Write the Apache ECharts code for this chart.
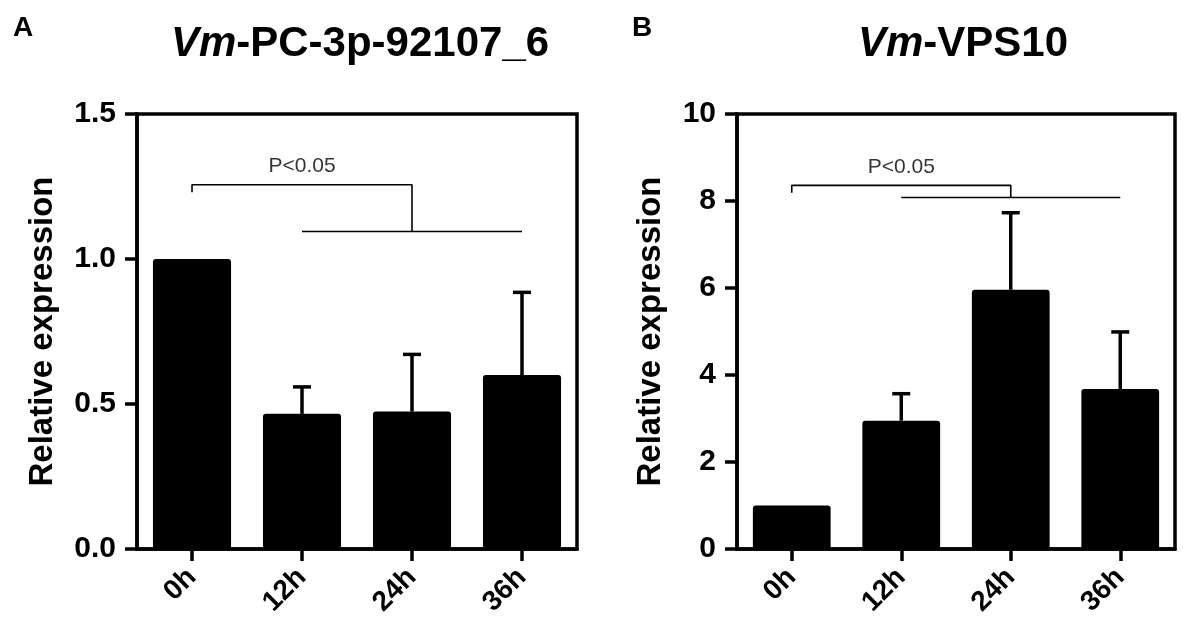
<!DOCTYPE html>
<html>
<head>
<meta charset="utf-8">
<script src="https://cdn.jsdelivr.net/npm/echarts@6/dist/echarts.min.js"></script>
<style>
html,body{margin:0;padding:0;background:#fff;}
#c{width:1183px;height:633px;}
</style>
</head>
<body>
<div id="c"></div>
<script>
var categories = ['0h', '12h', '24h', '36h'];
var pcMean = [1.0, 0.466, 0.474, 0.600];
var pcUpper = [1.0, 0.559, 0.671, 0.885];
var vpsMean = [1.0, 2.95, 5.96, 3.68];
var vpsUpper = [1.0, 3.57, 7.73, 4.99];
var pcTicks = [0.0, 0.5, 1.0, 1.5];
var vpsTicks = [0, 2, 4, 6, 8, 10];
// significance brackets: [category, value]
var pcBracketA = [['0h', 1.23], ['0h', 1.256], ['24h', 1.256], ['24h', 1.095]];
var pcBracketB = [['12h', 1.095], ['36h', 1.095]];
var pcSigText = [['12h', 1.32]];
var vpsBracketA = [['0h', 8.19], ['0h', 8.36], ['24h', 8.36], ['24h', 8.08]];
var vpsBracketB = [['12h', 8.08], ['36h', 8.08]];
var vpsSigText = [['12h', 8.78]];
var sigLabel = 'P<0.05';

var FONT = 'Liberation Sans, Arial, Helvetica, sans-serif';
var chart = echarts.init(document.getElementById('c'), null, {renderer: 'canvas'});

function errData(mean, upper) {
  return mean.map(function (m, i) { return [i, m, upper[i]]; });
}
function renderErr(params, api) {
  var i = api.value(0), m = api.value(1), u = api.value(2);
  if (u <= m) return null;
  var p0 = api.coord([i, m]);
  var p1 = api.coord([i, u]);
  var half = 9;
  var st = {stroke: '#000', lineWidth: 3.5};
  return {
    type: 'group',
    children: [
      {type: 'line', shape: {x1: p0[0], y1: p0[1], x2: p1[0], y2: p1[1]}, style: st},
      {type: 'line', shape: {x1: p1[0] - half, y1: p1[1], x2: p1[0] + half, y2: p1[1]}, style: st}
    ]
  };
}
function xAx(gi) {
  return {
    type: 'category', gridIndex: gi, data: categories,
    axisLine: {show: true, lineStyle: {color: '#000', width: 3.5}},
    axisTick: {show: true, alignWithLabel: true, length: 12, lineStyle: {color: '#000', width: 3.5}},
    axisLabel: {rotate: 45, margin: 24, color: '#000', fontSize: 28, fontWeight: 'bold', fontFamily: FONT}
  };
}
function yAx(gi, max, interval, fmt, gap) {
  return {
    type: 'value', gridIndex: gi, min: 0, max: max, interval: interval,
    name: 'Relative expression', nameLocation: 'middle', nameGap: gap,
    nameTextStyle: {color: '#000', fontSize: 33, fontWeight: 'bold', fontFamily: FONT},
    splitLine: {show: false},
    axisLine: {show: true, lineStyle: {color: '#000', width: 3.5}},
    axisTick: {show: true, length: 12, lineStyle: {color: '#000', width: 3.5}},
    axisLabel: {margin: 21, color: '#000', fontSize: 30, fontWeight: 'bold', fontFamily: FONT, formatter: fmt}
  };
}
function bracket(xi, data) {
  return {
    type: 'line', xAxisIndex: xi, yAxisIndex: xi, data: data, symbol: 'none', silent: true,
    lineStyle: {color: '#000', width: 1.6}, z: 5, animation: false
  };
}
function sigText(xi, data) {
  return {
    type: 'scatter', xAxisIndex: xi, yAxisIndex: xi, data: data, symbolSize: 0, silent: true,
    label: {show: true, position: 'inside', formatter: sigLabel, color: '#000', fontSize: 21, fontFamily: FONT},
    z: 6, animation: false
  };
}

var option = {
  backgroundColor: '#fff',
  animation: false,
  title: [
    {text: 'A', left: 8, top: 9, textStyle: {fontSize: 28, fontWeight: 'bold', color: '#000', fontFamily: FONT}},
    {text: 'B', left: 627, top: 9, textStyle: {fontSize: 28, fontWeight: 'bold', color: '#000', fontFamily: FONT}},
    {text: '{i|Vm}{b|-PC-3p-92107_6}', left: 355, top: 18, textAlign: 'center',
     textStyle: {rich: {
       i: {fontSize: 42, fontWeight: 'bold', fontStyle: 'italic', color: '#000', fontFamily: FONT},
       b: {fontSize: 42, fontWeight: 'bold', color: '#000', fontFamily: FONT}}}},
    {text: '{i|Vm}{b|-VPS10}', left: 958, top: 18, textAlign: 'center',
     textStyle: {rich: {
       i: {fontSize: 42, fontWeight: 'bold', fontStyle: 'italic', color: '#000', fontFamily: FONT},
       b: {fontSize: 42, fontWeight: 'bold', color: '#000', fontFamily: FONT}}}}
  ],
  grid: [
    {left: 137, top: 114, width: 440, height: 435, show: true, borderColor: '#000', borderWidth: 3.5, backgroundColor: 'transparent'},
    {left: 737, top: 114, width: 438, height: 435, show: true, borderColor: '#000', borderWidth: 3.5, backgroundColor: 'transparent'}
  ],
  xAxis: [xAx(0), xAx(1)],
  yAxis: [
    yAx(0, 1.5, 0.5, function (v) { return v.toFixed(1); }, 78),
    yAx(1, 10, 2, function (v) { return String(v); }, 70)
  ],
  series: [
    {type: 'bar', xAxisIndex: 0, yAxisIndex: 0, data: pcMean, barWidth: '71%',
     itemStyle: {color: '#000', borderRadius: 3}, z: 2},
    {type: 'custom', xAxisIndex: 0, yAxisIndex: 0, data: errData(pcMean, pcUpper), renderItem: renderErr, z: 3},
    {type: 'bar', xAxisIndex: 1, yAxisIndex: 1, data: vpsMean, barWidth: '71%',
     itemStyle: {color: '#000', borderRadius: 3}, z: 2},
    {type: 'custom', xAxisIndex: 1, yAxisIndex: 1, data: errData(vpsMean, vpsUpper), renderItem: renderErr, z: 3},
    bracket(0, pcBracketA), bracket(0, pcBracketB), sigText(0, pcSigText),
    bracket(1, vpsBracketA), bracket(1, vpsBracketB), sigText(1, vpsSigText)
  ]
};
chart.setOption(option);
</script>
</body>
</html>
